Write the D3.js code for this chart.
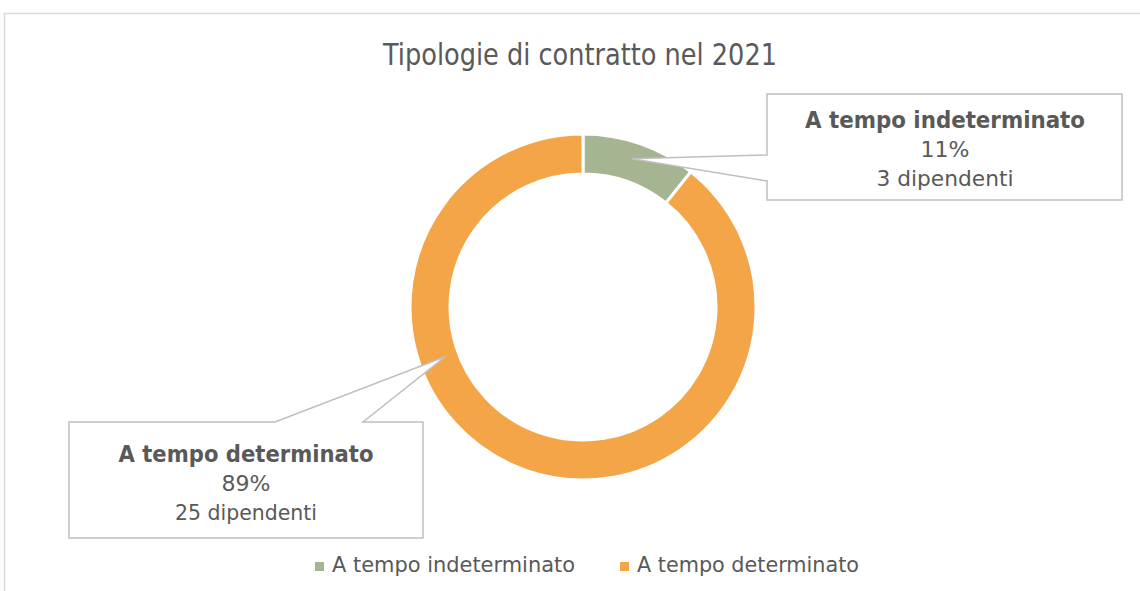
<!DOCTYPE html>
<html>
<head>
<meta charset="utf-8">
<script src="https://cdn.jsdelivr.net/npm/d3@7"></script>
<style>
  html, body { margin: 0; padding: 0; background: #fff; }
  svg { display: block; }
</style>
</head>
<body>
<svg id="chart" width="1140" height="591"></svg>
<script>
// ---- data ----
const title = "Tipologie di contratto nel 2021";
const categories = ["A tempo indeterminato", "A tempo determinato"];
const counts = [3, 25];
const percentLabels = ["11%", "89%"];
const countLabels = ["3 dipendenti", "25 dipendenti"];
const colors = ["#A5B592", "#F3A548"];

// ---- layout ----
const W = 1140, H = 591;
const cx = 583, cy = 307, rOuter = 173, rInner = 133;
const textColor = "#595959";
const font = "Tahoma, 'DejaVu Sans', Verdana, sans-serif";

const svg = d3.select("#chart");

// outer chart frame
svg.append("rect")
  .attr("x", 4.5).attr("y", 13.5)
  .attr("width", 1300).attr("height", 800)
  .attr("fill", "#fff").attr("stroke", "#d9d9d9").attr("stroke-width", 1.5);

// title
svg.append("text")
  .attr("x", 580).attr("y", 65)
  .attr("text-anchor", "middle")
  .attr("font-family", font).attr("font-size", 30)
  .attr("fill", textColor)
  .attr("textLength", 394).attr("lengthAdjust", "spacingAndGlyphs")
  .text(title);

// donut
const pie = d3.pie().sort(null).value(d => d)(counts);
const arc = d3.arc().innerRadius(rInner).outerRadius(rOuter);
const g = svg.append("g").attr("transform", `translate(${cx},${cy})`);
g.selectAll("path").data(pie).join("path")
  .attr("d", arc)
  .attr("fill", (d, i) => colors[i])
  .attr("stroke", "#fff").attr("stroke-width", 3);

// callout boxes
function pointAt(angle, r) {
  return [cx + r * Math.sin(angle), cy - r * Math.cos(angle)];
}
const a1 = (pie[0].startAngle + pie[0].endAngle) / 2;
const t1 = pointAt(a1 - 0.02, 156);
const box1 = {x0: 767, y0: 94, x1: 1122, y1: 200};
const p1 = `M${box1.x0},${box1.y0} H${box1.x1} V${box1.y1} H${box1.x0} V181 L${t1[0]},${t1[1]} L${box1.x0},155 Z`;
const a2 = 2 * Math.PI * 0.695;
const t2 = pointAt(a2, 146);
const box2 = {x0: 69, y0: 422, x1: 423, y1: 538};
const p2 = `M${box2.x0},${box2.y0} H275 L${t2[0]},${t2[1]} L363,${box2.y0} H${box2.x1} V${box2.y1} H${box2.x0} Z`;

svg.selectAll("path.callout").data([p1, p2]).join("path")
  .attr("class", "callout")
  .attr("d", d => d)
  .attr("fill", "#fff")
  .attr("stroke", "#bfbfbf").attr("stroke-width", 1.5)
  .attr("stroke-linejoin", "miter");

// callout texts
const labelSpecs = [
  {cx: 945, base: [128, 157, 186], widths: [280, null, 137]},
  {cx: 246, base: [462, 491, 520], widths: [255, null, 142]}
];
labelSpecs.forEach((s, i) => {
  const lines = [categories[i], percentLabels[i], countLabels[i]];
  lines.forEach((t, j) => {
    const txt = svg.append("text")
      .attr("x", s.cx).attr("y", s.base[j])
      .attr("text-anchor", "middle")
      .attr("font-family", font).attr("font-size", j === 0 ? 23 : 22)
      .attr("font-weight", j === 0 ? "bold" : "normal")
      .attr("fill", textColor)
      .text(t);
    if (s.widths[j]) txt.attr("textLength", s.widths[j]).attr("lengthAdjust", "spacingAndGlyphs");
  });
});

// legend
const legendItems = [
  {sx: 315, tx: 332, tw: 243},
  {sx: 620, tx: 637, tw: 222}
];
legendItems.forEach((l, i) => {
  svg.append("rect")
    .attr("x", l.sx).attr("y", 562).attr("width", 9).attr("height", 9)
    .attr("fill", colors[i]);
  svg.append("text")
    .attr("x", l.tx).attr("y", 572)
    .attr("font-family", font).attr("font-size", 21)
    .attr("fill", textColor)
    .attr("textLength", l.tw).attr("lengthAdjust", "spacingAndGlyphs")
    .text(categories[i]);
});
</script>
</body>
</html>
